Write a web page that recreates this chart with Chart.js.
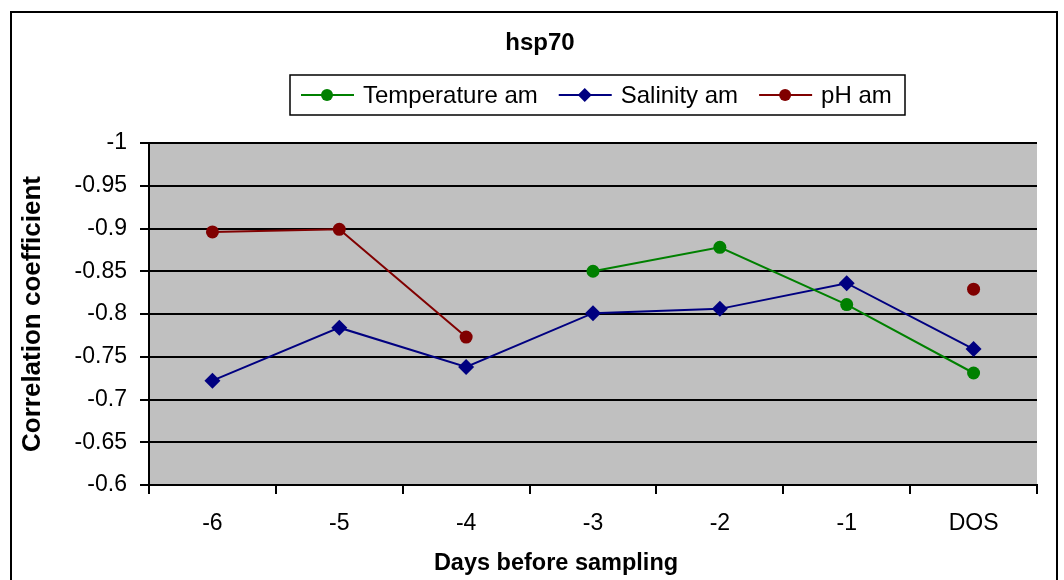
<!DOCTYPE html>
<html>
<head>
<meta charset="utf-8">
<script src="https://cdn.jsdelivr.net/npm/chart.js@4/dist/chart.umd.min.js"></script>
<style>
  html, body { margin: 0; padding: 0; background: #fff; }
  #wrap { width: 1064px; height: 580px; position: relative; }
</style>
</head>
<body>
<div id="wrap"><canvas id="hspChart" width="1064" height="580"></canvas></div>
<script>
// categories and series (correlation coefficients)
const days = ['-6', '-5', '-4', '-3', '-2', '-1', 'DOS'];
const temperatureAm = [null, null, null, -0.850, -0.878, -0.811, -0.731];
const salinityAm = [-0.722, -0.784, -0.738, -0.801, -0.806, -0.836, -0.759];
const phAm = [-0.896, -0.899, -0.773, null, null, null, -0.829];
const yTicks = [-1, -0.95, -0.9, -0.85, -0.8, -0.75, -0.7, -0.65, -0.6];

const chartTitle = 'hsp70';
const xTitle = 'Days before sampling';

const FONT = "'Liberation Sans', Arial, sans-serif";

// grey plot background + outer frame
const frame = {
    id: 'frame',
    beforeDraw(chart) {
        const { ctx, chartArea: a } = chart;
        ctx.save();
        ctx.fillStyle = '#fff';
        ctx.fillRect(0, 0, chart.width, chart.height);
        ctx.fillStyle = '#c0c0c0';
        ctx.fillRect(a.left, a.top, a.right - a.left, a.bottom - a.top);
        ctx.strokeStyle = '#000';
        ctx.lineWidth = 2;
        ctx.strokeRect(11, 12, 1046, 600);
        ctx.restore();
    }
};

// title, x title and Excel style boxed legend (line with marker)
const boxLegend = {
    id: 'boxLegend',
    afterDraw(chart) {
        const { ctx } = chart;
        ctx.save();
        ctx.fillStyle = '#000';
        ctx.textAlign = 'center';
        ctx.textBaseline = 'middle';
        ctx.font = 'bold 24px ' + FONT;
        ctx.fillText(chartTitle, 540, 43);
        ctx.font = 'bold 23.5px ' + FONT;
        ctx.fillText(xTitle, 556, 564);

        const box = { left: 290, top: 75, right: 905, bottom: 115 };
        const cy = (box.top + box.bottom) / 2;
        ctx.textAlign = 'left';
        ctx.fillStyle = '#fff';
        ctx.fillRect(box.left, box.top, box.right - box.left, box.bottom - box.top);
        ctx.strokeStyle = '#000';
        ctx.lineWidth = 1.5;
        ctx.strokeRect(box.left, box.top, box.right - box.left, box.bottom - box.top);
        ctx.font = '24px ' + FONT;
        let x = box.left + 11;
        chart.data.datasets.forEach(ds => {
            ctx.strokeStyle = ds.borderColor;
            ctx.lineWidth = 2;
            ctx.beginPath();
            ctx.moveTo(x, cy);
            ctx.lineTo(x + 53, cy);
            ctx.stroke();
            ctx.fillStyle = ds.backgroundColor;
            ctx.beginPath();
            if (ds.pointStyle === 'rectRot') {
                const r = 7;
                ctx.moveTo(x + 26, cy - r);
                ctx.lineTo(x + 26 + r, cy);
                ctx.lineTo(x + 26, cy + r);
                ctx.lineTo(x + 26 - r, cy);
                ctx.closePath();
            } else {
                ctx.arc(x + 26, cy, 6, 0, Math.PI * 2);
            }
            ctx.fill();
            x += 62;
            ctx.fillStyle = '#000';
            ctx.fillText(ds.label, x, cy + 1);
            x += ctx.measureText(ds.label).width + 21;
        });
        ctx.restore();
    }
};

new Chart(document.getElementById('hspChart'), {
    type: 'line',
    data: {
        labels: days,
        datasets: [
            {
                label: 'Temperature am',
                data: temperatureAm,
                borderColor: '#008000',
                backgroundColor: '#008000',
                pointStyle: 'circle',
                pointRadius: 6.5
            },
            {
                label: 'Salinity am',
                data: salinityAm,
                borderColor: '#000080',
                backgroundColor: '#000080',
                pointStyle: 'rectRot',
                pointRadius: 8
            },
            {
                label: 'pH am',
                data: phAm,
                borderColor: '#800000',
                backgroundColor: '#800000',
                pointStyle: 'circle',
                pointRadius: 6.5
            }
        ]
    },
    options: {
        responsive: false,
        animation: false,
        spanGaps: false,
        elements: {
            line: { borderWidth: 2, tension: 0 },
            point: { borderWidth: 0, hoverRadius: 7 }
        },
        layout: { padding: { left: 0, right: 27, top: 143, bottom: 0 } },
        plugins: {
            legend: { display: false },
            tooltip: { enabled: false },
            title: { display: false }
        },
        scales: {
            x: {
                offset: true,
                afterFit(scale) { scale.height = 95; },
                grid: {
                    offset: true,
                    drawOnChartArea: false,
                    drawTicks: true,
                    tickLength: 9,
                    color: '#000',
                    lineWidth: 2
                },
                border: { color: '#000', width: 2 },
                ticks: {
                    color: '#000',
                    font: { family: FONT, size: 23 },
                    padding: 16,
                    maxRotation: 0
                }
            },
            y: {
                reverse: true,
                min: -1,
                max: -0.6,
                afterFit(scale) { scale.width = 149; },
                afterBuildTicks(scale) { scale.ticks = yTicks.map(v => ({ value: v })); },
                grid: {
                    color: '#000',
                    lineWidth: 2,
                    tickLength: 9
                },
                border: { color: '#000', width: 2 },
                ticks: {
                    color: '#000',
                    font: { family: FONT, size: 23 },
                    padding: 13,
                    callback: v => String(Number(v.toFixed(2)))
                },
                title: {
                    display: true,
                    text: 'Correlation coefficient',
                    color: '#000',
                    font: { family: FONT, size: 26, weight: 'bold' },
                    padding: { top: 17, bottom: 0 }
                }
            }
        }
    },
    plugins: [frame, boxLegend]
});
</script>
</body>
</html>
